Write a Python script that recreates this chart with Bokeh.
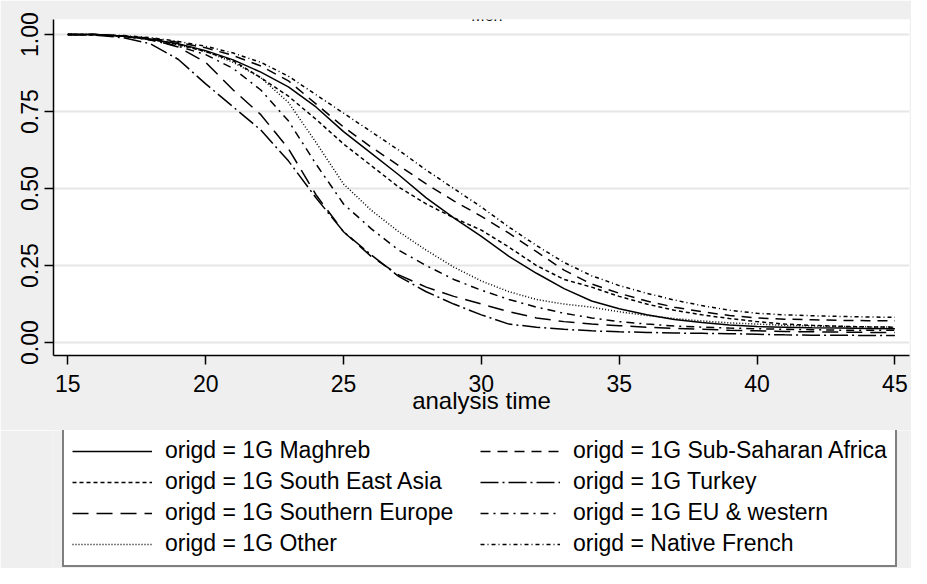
from bokeh.plotting import figure
from bokeh.layouts import column
from bokeh.models import Range1d, Legend, LegendItem, Label, NumeralTickFormatter
from bokeh.embed import file_html
from bokeh.resources import INLINE

# ---- data ----
ages = list(range(15, 46))

maghreb = [1.0, 1.0, .995, .985, .97, .948, .918, .878, .83, .765, .685, .615, .545, .47, .405, .345,
           .28, .225, .175, .135, .11, .09, .075, .065, .057, .052, .05, .048, .047, .046, .045]
sub_saharan = [1.0, 1.0, .996, .988, .975, .957, .932, .898, .85, .775, .70, .635, .575, .515, .46, .41,
               .355, .295, .235, .19, .16, .135, .115, .10, .088, .08, .076, .074, .072, .071, .071]
se_asia = [1.0, 1.0, .995, .985, .968, .945, .915, .86, .80, .725, .645, .575, .505, .45, .405, .365,
           .31, .25, .205, .18, .15, .125, .105, .09, .078, .068, .06, .056, .053, .051, .05]
turkey = [1.0, .998, .99, .97, .92, .84, .765, .69, .59, .47, .36, .285, .215, .165, .125, .09,
          .06, .05, .043, .038, .035, .033, .031, .03, .029, .027, .025, .024, .024, .023, .023]
south_europe = [1.0, 1.0, .995, .985, .96, .91, .82, .74, .63, .48, .36, .28, .22, .18, .15, .125,
                .10, .08, .068, .06, .055, .05, .046, .043, .04, .038, .036, .035, .034, .033, .033]
eu_western = [1.0, 1.0, .995, .982, .962, .935, .89, .82, .72, .58, .45, .37, .30, .25, .205, .17,
              .14, .115, .095, .08, .068, .06, .054, .05, .047, .045, .043, .042, .04, .04, .04]
other = [1.0, 1.0, .995, .984, .967, .945, .91, .86, .78, .65, .515, .43, .36, .30, .245, .20,
         .165, .14, .125, .115, .10, .088, .078, .07, .064, .06, .056, .054, .052, .051, .05]
native_french = [1.0, 1.0, .997, .99, .978, .962, .94, .91, .865, .805, .745, .685, .625, .56, .50, .44,
                 .375, .315, .26, .217, .185, .16, .138, .12, .105, .095, .09, .087, .085, .083, .082]

labels = ["origd = 1G Maghreb", "origd = 1G South East Asia", "origd = 1G Southern Europe",
          "origd = 1G Other", "origd = 1G Sub-Saharan Africa", "origd = 1G Turkey",
          "origd = 1G EU & western", "origd = Native French"]
series = [maghreb, se_asia, south_europe, other, sub_saharan, turkey, eu_western, native_french]
dashes = ["solid", "4 3", "16 8", "1 2", "10 7", "18 4 2 4", "8 5 2 5", "4 3 1 3"]

x_ticks = [15, 20, 25, 30, 35, 40, 45]
y_ticks = [0, 0.25, 0.5, 0.75, 1.0]

FONT = "Liberation Sans"
BG = "#efefef"
W = 911
H_PLOT = 430
H_LEG = 138

# ---- main plot ----
p = figure(width=W, height=H_PLOT, output_backend="svg", toolbar_location=None,
           x_range=Range1d(14.48, 45.53), y_range=Range1d(-0.042, 1.049),
           min_border_left=53, min_border_right=2, min_border_top=19,
           min_border_bottom=H_PLOT - 355,
           background_fill_color="white", border_fill_color=BG,
           outline_line_color=None)

p.xgrid.visible = False
p.ygrid.grid_line_color = "#e6e6e6"
p.ygrid.grid_line_width = 2

for ax in (p.xaxis[0], p.yaxis[0]):
    ax.axis_line_color = "black"
    ax.axis_line_width = 1.5
    ax.major_tick_line_color = "black"
    ax.major_tick_line_width = 1.5
    ax.major_tick_in = 0
    ax.major_tick_out = 9
    ax.minor_tick_line_color = None
    ax.major_label_text_font = FONT
    ax.major_label_text_font_size = "23px"
    ax.major_label_text_color = "black"

p.xaxis.ticker = x_ticks
p.yaxis.ticker = y_ticks
p.yaxis.formatter = NumeralTickFormatter(format="0.00")
p.yaxis.major_label_orientation = "vertical"
p.yaxis.major_label_standoff = 6
p.xaxis.major_label_standoff = 10
p.xaxis.axis_label = "analysis time"
p.xaxis.axis_label_text_font = FONT
p.xaxis.axis_label_text_font_size = "24px"
p.xaxis.axis_label_text_font_style = "normal"
p.xaxis.axis_label_text_color = "black"
p.xaxis.axis_label_standoff = -8

for ys, dash in zip(series, dashes):
    p.line(x=ages, y=ys, line_color="black", line_width=1.5, line_dash=dash)

title = Label(x=30.2, y=340, y_units="screen", text="Men", text_align="center",
              text_baseline="alphabetic", text_font=FONT, text_font_size="16px",
              text_color="black")
p.add_layout(title)

# ---- legend strip (its lines lie outside its own ranges, only the legend shows) ----
q = figure(width=W, height=H_LEG, output_backend="svg", toolbar_location=None,
           x_range=Range1d(0, 1), y_range=Range1d(0, 1),
           x_axis_type=None, y_axis_type=None,
           min_border_left=0, min_border_right=0, min_border_top=0, min_border_bottom=0,
           background_fill_color=BG, border_fill_color=BG, outline_line_color=None)
q.xgrid.visible = False
q.ygrid.visible = False

items = []
for lab, ys, dash in zip(labels, series, dashes):
    r = q.line(x=ages, y=ys, line_color="black", line_width=1.5, line_dash=dash)
    items.append(LegendItem(label=lab, renderers=[r]))

legend = Legend(items=items, location=(9, 1), orientation="vertical", ncols=2,
                glyph_width=80, glyph_height=26, label_height=26, label_width=311,
                label_standoff=13, spacing=4, padding=8, margin=0,
                border_line_color="black", border_line_width=2,
                background_fill_color="white", background_fill_alpha=1.0,
                label_text_font=FONT, label_text_font_size="23px", label_text_color="black")
q.add_layout(legend)

layout = column(p, q, spacing=0)

open("out.html", "w").write(file_html(layout, INLINE))
